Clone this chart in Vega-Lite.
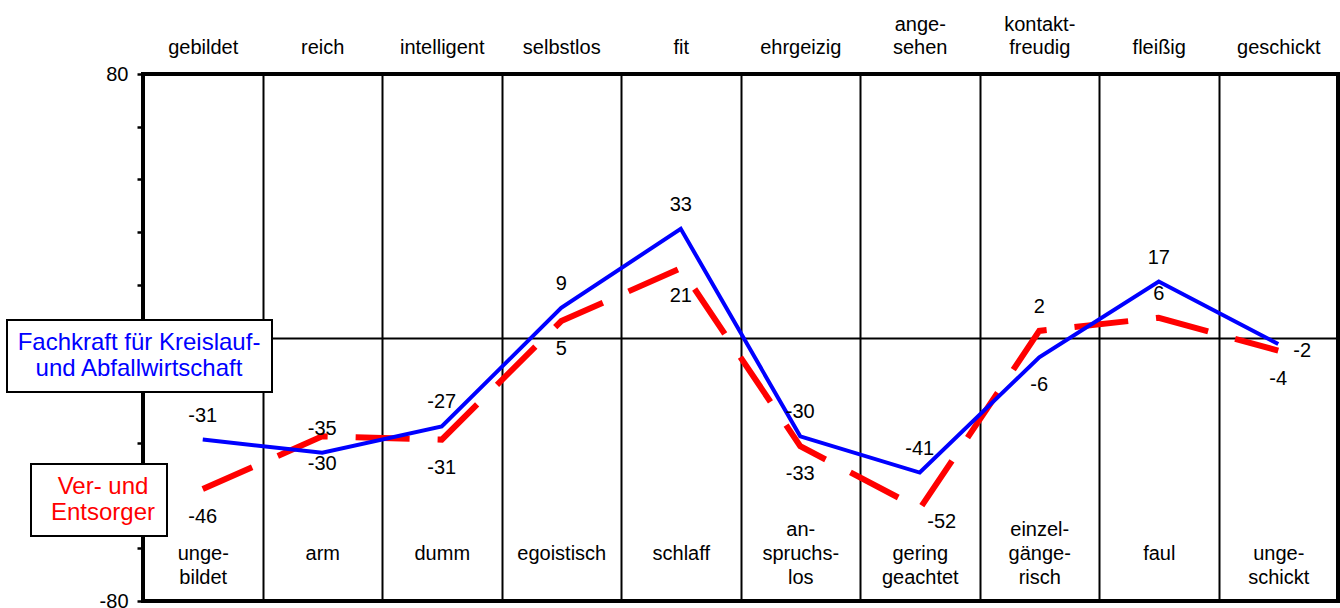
{
  "$schema": "https://vega.github.io/schema/vega-lite/v6.json",
  "width": 1195,
  "height": 527,
  "autosize": {"type": "none"},
  "padding": {"left": 143, "top": 74, "right": 2, "bottom": 7},
  "background": "white",
  "config": {
    "font": "Liberation Sans",
    "view": {"stroke": "black", "strokeWidth": 4},
    "text": {"font": "Liberation Sans", "fontSize": 20, "color": "black"},
    "legend": {"strokeWidth": 2},
    "locale": {"number": {"decimal": ".", "thousands": ",", "grouping": [3], "currency": ["", ""], "minus": "-"}}
  },
  "datasets": {
    "cats": [
      {"pos": "gebildet", "neg": "unge-\nbildet"},
      {"pos": "reich", "neg": "arm"},
      {"pos": "intelligent", "neg": "dumm"},
      {"pos": "selbstlos", "neg": "egoistisch"},
      {"pos": "fit", "neg": "schlaff"},
      {"pos": "ehrgeizig", "neg": "an-\nspruchs-\nlos"},
      {"pos": "ange-\nsehen", "neg": "gering\ngeachtet"},
      {"pos": "kontakt-\nfreudig", "neg": "einzel-\ngänge-\nrisch"},
      {"pos": "fleißig", "neg": "faul"},
      {"pos": "geschickt", "neg": "unge-\nschickt"}
    ],
    "scores": [
      {"pos": "gebildet", "series": "Fachkraft für Kreislauf-\nund Abfallwirtschaft", "value": -31, "side": "above"},
      {"pos": "reich", "series": "Fachkraft für Kreislauf-\nund Abfallwirtschaft", "value": -35, "side": "above"},
      {"pos": "intelligent", "series": "Fachkraft für Kreislauf-\nund Abfallwirtschaft", "value": -27, "side": "above"},
      {"pos": "selbstlos", "series": "Fachkraft für Kreislauf-\nund Abfallwirtschaft", "value": 9, "side": "above"},
      {"pos": "fit", "series": "Fachkraft für Kreislauf-\nund Abfallwirtschaft", "value": 33, "side": "above"},
      {"pos": "ehrgeizig", "series": "Fachkraft für Kreislauf-\nund Abfallwirtschaft", "value": -30, "side": "above"},
      {"pos": "ange-\nsehen", "series": "Fachkraft für Kreislauf-\nund Abfallwirtschaft", "value": -41, "side": "above"},
      {"pos": "kontakt-\nfreudig", "series": "Fachkraft für Kreislauf-\nund Abfallwirtschaft", "value": -6, "side": "below"},
      {"pos": "fleißig", "series": "Fachkraft für Kreislauf-\nund Abfallwirtschaft", "value": 17, "side": "above"},
      {"pos": "geschickt", "series": "Fachkraft für Kreislauf-\nund Abfallwirtschaft", "value": -2, "side": "right"},
      {"pos": "gebildet", "series": "Ver- und\nEntsorger", "value": -46, "side": "below"},
      {"pos": "reich", "series": "Ver- und\nEntsorger", "value": -30, "side": "below"},
      {"pos": "intelligent", "series": "Ver- und\nEntsorger", "value": -31, "side": "below"},
      {"pos": "selbstlos", "series": "Ver- und\nEntsorger", "value": 5, "side": "below"},
      {"pos": "fit", "series": "Ver- und\nEntsorger", "value": 21, "side": "below"},
      {"pos": "ehrgeizig", "series": "Ver- und\nEntsorger", "value": -33, "side": "below"},
      {"pos": "ange-\nsehen", "series": "Ver- und\nEntsorger", "value": -52, "side": "below right"},
      {"pos": "kontakt-\nfreudig", "series": "Ver- und\nEntsorger", "value": 2, "side": "above"},
      {"pos": "fleißig", "series": "Ver- und\nEntsorger", "value": 6, "side": "above"},
      {"pos": "geschickt", "series": "Ver- und\nEntsorger", "value": -4, "side": "below"}
    ]
  },
  "encoding": {
    "x": {
      "field": "pos",
      "type": "nominal",
      "sort": ["gebildet", "reich", "intelligent", "selbstlos", "fit", "ehrgeizig", "ange-\nsehen", "kontakt-\nfreudig", "fleißig", "geschickt"],
      "scale": {"domain": ["gebildet", "reich", "intelligent", "selbstlos", "fit", "ehrgeizig", "ange-\nsehen", "kontakt-\nfreudig", "fleißig", "geschickt"], "paddingInner": 0, "paddingOuter": 0},
      "axis": null
    },
    "y": {
      "field": "value",
      "type": "quantitative",
      "scale": {"domain": [-80, 80], "nice": false, "zero": false},
      "axis": {
        "title": null,
        "grid": true,
        "gridWidth": 2,
        "gridOpacity": 1,
        "gridColor": {"condition": {"test": "datum.value === 0", "value": "black"}, "value": "transparent"},
        "domain": false,
        "values": [-80, -64, -48, -32, -16, 0, 16, 32, 48, 64, 80],
        "labelExpr": "datum.value == 80 || datum.value == -80 ? datum.label : ''",
        "tickColor": "black",
        "tickWidth": 2.5,
        "tickSize": 6,
        "labelPadding": 9,
        "labelFontSize": 20,
        "labelColor": "black",
        "labelFont": "Liberation Sans"
      }
    }
  },
  "layer": [
    {
      "data": {"name": "cats"},
      "mark": {"type": "text", "opacity": 0},
      "encoding": {
        "x": {
          "field": "neg",
          "type": "nominal",
          "sort": ["unge-\nbildet", "arm", "dumm", "egoistisch", "schlaff", "an-\nspruchs-\nlos", "gering\ngeachtet", "einzel-\ngänge-\nrisch", "faul", "unge-\nschickt"],
          "scale": {"domain": ["unge-\nbildet", "arm", "dumm", "egoistisch", "schlaff", "an-\nspruchs-\nlos", "gering\ngeachtet", "einzel-\ngänge-\nrisch", "faul", "unge-\nschickt"], "paddingInner": 0, "paddingOuter": 0},
          "axis": {
            "orient": "bottom",
            "title": null,
            "grid": false,
            "ticks": false,
            "domain": false,
            "labelAngle": 0,
            "labelOverlap": false,
            "labelLimit": 300,
            "labelBaseline": "middle",
            "labelPadding": -72,
            "labelFontSize": 20,
            "labelLineHeight": 24,
            "labelColor": "black",
            "labelFont": "Liberation Sans",
            "labelExpr": "split((length(split(datum.label, '\\n')) < 3 ? '\\n' : '') + datum.label, '\\n')"
          }
        },
        "text": {"field": "neg", "type": "nominal"}
      }
    },
    {
      "data": {"name": "scores"},
      "transform": [{"filter": "datum.series == 'Ver- und\\nEntsorger'"}],
      "mark": {"type": "line", "strokeWidth": 6, "strokeDash": [54, 28], "strokeCap": "butt"},
      "encoding": {
        "x": {
          "field": "pos",
          "type": "nominal",
          "sort": ["gebildet", "reich", "intelligent", "selbstlos", "fit", "ehrgeizig", "ange-\nsehen", "kontakt-\nfreudig", "fleißig", "geschickt"],
          "scale": {"domain": ["gebildet", "reich", "intelligent", "selbstlos", "fit", "ehrgeizig", "ange-\nsehen", "kontakt-\nfreudig", "fleißig", "geschickt"], "paddingInner": 0, "paddingOuter": 0},
          "axis": {
            "orient": "top",
            "title": null,
            "grid": true,
            "tickBand": "extent",
            "gridColor": "black",
            "gridWidth": 2,
            "gridOpacity": 1,
            "ticks": false,
            "domain": false,
            "labelAngle": 0,
            "labelOverlap": false,
            "labelLimit": 300,
            "labelBaseline": "middle",
            "labelPadding": 50,
            "labelFontSize": 20,
            "labelLineHeight": 23,
            "labelColor": "black",
            "labelFont": "Liberation Sans",
            "labelExpr": "split((length(split(datum.label, '\\n')) < 2 ? '\\n' : '') + datum.label, '\\n')"
          }
        },
        "color": {
          "field": "series",
          "type": "nominal",
          "scale": {"range": ["#ff0000"]},
          "legend": {
            "orient": "none",
            "legendX": -112,
            "legendY": 390,
            "title": null,
            "labelExpr": "split(datum.label, '\\n')",
            "labelFontSize": 24,
            "labelColor": "#ff0000",
            "labelFont": "Liberation Sans",
            "labelAlign": "center",
            "labelLimit": 400,
            "labelOffset": 37,
            "symbolSize": 0,
            "symbolStrokeWidth": 0,
            "symbolOpacity": 0,
            "symbolType": "circle",
            "strokeColor": "black",
            "fillColor": "white",
            "padding": 11,
            "cornerRadius": 0
          }
        }
      }
    },
    {
      "data": {"name": "scores"},
      "transform": [{"filter": "datum.series != 'Ver- und\\nEntsorger'"}],
      "mark": {"type": "line", "strokeWidth": 4},
      "encoding": {
        "stroke": {
          "field": "series",
          "type": "nominal",
          "scale": {"range": ["#0000ff"]},
          "legend": {
            "orient": "none",
            "legendX": -136,
            "legendY": 246,
            "title": null,
            "labelExpr": "split(datum.label, '\\n')",
            "labelFontSize": 24,
            "labelColor": "#0000ff",
            "labelFont": "Liberation Sans",
            "labelAlign": "center",
            "labelLimit": 400,
            "labelOffset": 97,
            "symbolSize": 0,
            "symbolStrokeWidth": 0,
            "symbolOpacity": 0,
            "symbolType": "circle",
            "strokeColor": "black",
            "fillColor": "white",
            "padding": 11,
            "cornerRadius": 0
          }
        }
      }
    },
    {
      "data": {"name": "scores"},
      "transform": [{"filter": "datum.side == 'above'"}],
      "mark": {"type": "text", "baseline": "middle", "dy": -24, "fontSize": 20},
      "encoding": {
        "text": {"field": "value", "type": "quantitative", "format": "d"}
      }
    },
    {
      "data": {"name": "scores"},
      "transform": [{"filter": "datum.side == 'below'"}],
      "mark": {"type": "text", "baseline": "middle", "dy": 28, "fontSize": 20},
      "encoding": {
        "text": {"field": "value", "type": "quantitative", "format": "d"}
      }
    },
    {
      "data": {"name": "scores"},
      "transform": [{"filter": "datum.side == 'below right'"}],
      "mark": {"type": "text", "baseline": "middle", "dx": 22, "dy": 13, "fontSize": 20},
      "encoding": {
        "text": {"field": "value", "type": "quantitative", "format": "d"}
      }
    },
    {
      "data": {"name": "scores"},
      "transform": [{"filter": "datum.side == 'right'"}],
      "mark": {"type": "text", "baseline": "middle", "dx": 24, "dy": 7, "fontSize": 20},
      "encoding": {
        "text": {"field": "value", "type": "quantitative", "format": "d"}
      }
    }
  ],
  "resolve": {
    "scale": {"x": "independent", "color": "independent", "stroke": "independent"},
    "axis": {"x": "independent"},
    "legend": {"color": "independent", "stroke": "independent"}
  }
}
